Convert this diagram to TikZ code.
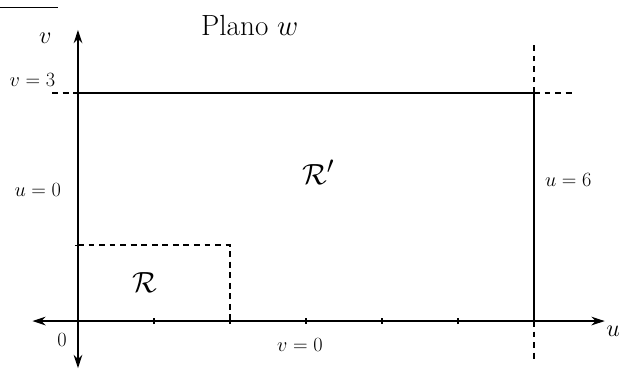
\documentclass[tikz,border=0pt]{standalone}
\usepackage{tikz}
\usetikzlibrary{positioning, arrows.meta, calc}

\begin{document}
\begin{tikzpicture}[x=2.28cm, y=2.28cm, font=\LARGE, >={Stealth[length=4mm, width=2.6mm]},
  axis/.style={->, line width=1.2pt},
  edge/.style={line width=1.8pt},
  guide/.style={line width=1pt, dash pattern=on 5pt off 4pt},
  lbl/.style={inner sep=1pt},
]
  \useasboundingbox (-1.026,-0.645) rectangle (7.289,4.224);
  % eixos
  \coordinate (O) at (0,0);
  \coordinate (uL) at (-0.6,0);
  \coordinate (uR) at (6.93,0);
  \coordinate (vB) at (0,-0.62);
  \coordinate (vT) at (0,3.83);
  \draw[axis] (O) -- (uR);
  \draw[axis] (O) -- (uL);
  \draw[axis] (O) -- (vT);
  \draw[axis] (O) -- (vB);
  \foreach \xk in {1,...,5} {
    \draw[line width=0.9pt] (\xk,-0.04) -- (\xk,0.04);
  }
  \draw[line width=0.9pt] (-0.04,1) -- (0.04,1);
  % retangulo R'
  \coordinate (A) at (0,3);
  \coordinate (B) at (6,3);
  \coordinate (C) at (6,0);
  \draw[edge] (O) -- (A) -- (B) -- (C);
  % linhas guia
  \coordinate (gL) at (-0.34,3);
  \coordinate (gR) at (6.54,3);
  \coordinate (gT) at (6,3.67);
  \coordinate (gB) at (6,-0.51);
  \draw[guide] (gL) -- (A);
  \draw[guide] (B) -- (gR);
  \draw[guide] (B) -- (gT);
  \draw[guide] (C) -- (gB);
  % retangulo R
  \coordinate (P) at (0,1);
  \coordinate (Q) at (2,1);
  \coordinate (S) at (2,0);
  \draw[guide] (P) -- (Q) -- (S);
  % traco no canto
  \coordinate (t1) at (-1.026,4.13);
  \coordinate (t2) at (-0.26,4.13);
  \draw[line width=1pt] (t1) -- (t2);
  % rotulos
  \node[lbl, font=\huge] (vlab) at (-0.43,3.72) {$v$};
  \node[lbl, font=\Huge] (title) at (2.26,3.89) {Plano $w$};
  \node[lbl] (v3) at (-0.6,3.17) {$v=3$};
  \node[lbl] (u0) at (-0.53,1.72) {$u=0$};
  \node[lbl, font=\Huge] (Rp) at (3.16,1.96) {$\mathcal{R}'$};
  \node[lbl, font=\Huge] (R) at (0.88,0.51) {$\mathcal{R}$};
  \node[lbl] (orig) at (-0.21,-0.25) {$0$};
  \node[lbl] (v0) at (2.92,-0.32) {$v=0$};
  \node[lbl] (u6) at (6.45,1.86) {$u=6$};
  \node[lbl, font=\huge] (ulab) at (7.04,-0.14) {$u$};
\end{tikzpicture}
\end{document}
